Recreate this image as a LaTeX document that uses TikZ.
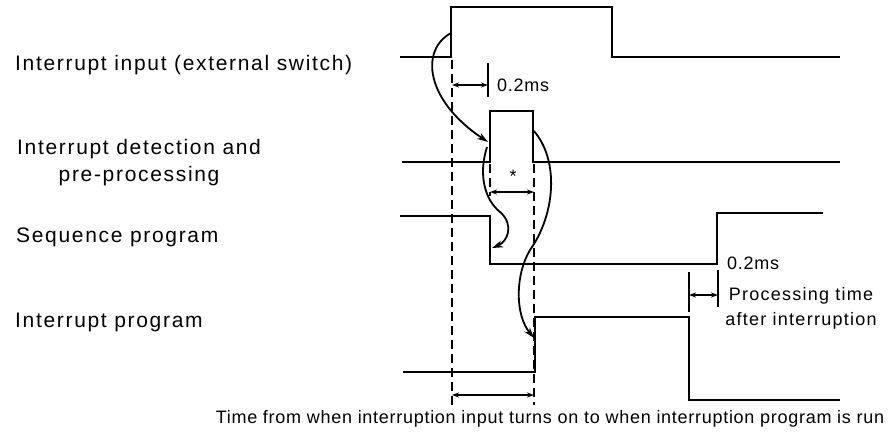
\documentclass[tikz,border=0pt]{standalone}
\usepackage{fontspec}
\setmainfont{Liberation Sans}
\newfontfamily\labfont{Liberation Sans}[LetterSpace=8.0]
\newfontfamily\smfont{Liberation Sans}[LetterSpace=4.0]
\newfontfamily\widefont{Liberation Sans}[LetterSpace=7.0]
\usetikzlibrary{arrows.meta}
\tikzset{
  sig/.style={line width=2.3pt, line join=miter},
  dashline/.style={line width=1.4pt, dash pattern=on 9pt off 5pt},
  tickline/.style={line width=1.4pt},
  dimarrow/.style={line width=1.4pt, {Stealth[length=7pt,width=5pt]}-{Stealth[length=7pt,width=5pt]}},
  flow/.style={line width=1.8pt, -{Stealth[length=11pt,width=7pt]}},
  lab/.style={font=\labfont\fontsize{21}{27}\selectfont, anchor=west, inner sep=0pt},
  small/.style={font=\smfont\fontsize{18}{25}\selectfont, inner sep=0pt},
  note/.style={font=\widefont\fontsize{18}{25}\selectfont, inner sep=0pt},
}
\begin{document}
\begin{tikzpicture}[x=1pt,y=-1pt]
\useasboundingbox (0,0) rectangle (896,433);
% labels
\node[lab] (l1) at (15,65) {Interrupt input (external switch)};
\node[lab, align=center] (l2) at (17,163) {Interrupt detection and\\pre-processing};
\node[lab] (l3) at (16,237) {Sequence program};
\node[lab] (l4) at (15,322) {Interrupt program};
% signals
\draw[sig] (400,57) -- (451,57) -- (451,7) -- (612,7) -- (612,57) -- (840,57);
\draw[sig] (402,162) -- (490,162) -- (490,111) -- (533,111) -- (533,162) -- (840,162);
\draw[sig] (400,216) -- (490,216) -- (490,264) -- (717,264) -- (717,213) -- (823,213);
\draw[sig] (403,372) -- (535,372) -- (535,317) -- (689,317) -- (689,400) -- (840,400);
% dashed guides
\draw[dashline] (452,60) -- (452,405);
\draw[dashline] (534,164) -- (534,405);
\draw[dashline] (490,164) -- (490,196);
% first 0.2ms
\coordinate (a1) at (452,85);
\coordinate (a2) at (488,85);
\draw[tickline] (488,63) -- (488,97);
\draw[dimarrow] (a1) -- (a2);
\node[small, anchor=west] (t1) at (497,85) {0.2ms};
% asterisk and inner arrow
\node[inner sep=0pt, font=\fontsize{18}{20}\selectfont] (ast) at (513,176) {*};
\coordinate (b1) at (490,192);
\coordinate (b2) at (534,192);
\draw[dimarrow] (b1) -- (b2);
% second 0.2ms
\coordinate (c1) at (689,295);
\coordinate (c2) at (718,295);
\draw[tickline] (689,272) -- (689,312);
\draw[tickline] (718,270) -- (718,307);
\draw[dimarrow] (c1) -- (c2);
\node[small, anchor=west] (t2) at (727,263) {0.2ms};
\node[note, align=center] (t3) at (801,308) {Processing time\\after interruption};
% bottom
\coordinate (d1) at (452,395);
\coordinate (d2) at (534,395);
\draw[dimarrow] (d1) -- (d2);
\node[small] (t4) at (550,419) {Time from when interruption input turns on to when interruption program is run};
% curved arrows
\coordinate (s1) at (451,33);
\coordinate (e1) at (488,142);
\draw[flow] (s1) .. controls (420,50) and (425,100) .. (e1);
\coordinate (s2) at (487,147);
\coordinate (m2) at (500,212);
\coordinate (e2) at (492,248);
\draw[flow] (s2) .. controls (478,175) and (485,200) .. (m2) .. controls (515,225) and (507,242) .. (e2);
\coordinate (s3) at (533,130);
\coordinate (m3) at (530,250);
\coordinate (e3) at (534,338);
\draw[flow] (s3) .. controls (560,160) and (555,215) .. (m3) .. controls (515,275) and (515,315) .. (e3);
\end{tikzpicture}
\end{document}
